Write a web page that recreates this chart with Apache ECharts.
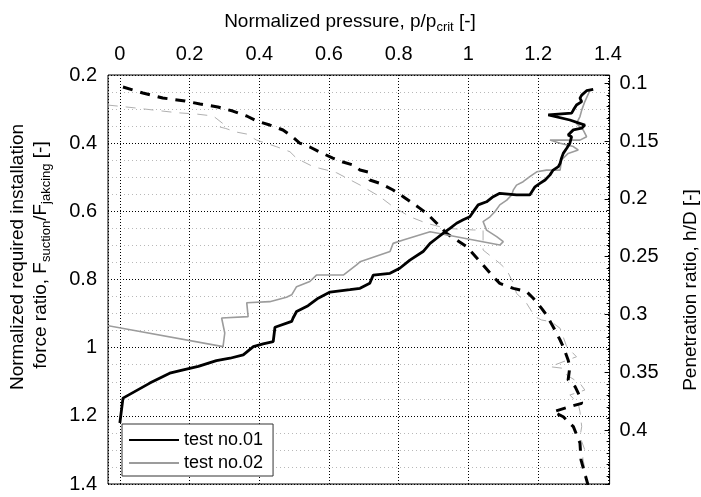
<!DOCTYPE html>
<html><head><meta charset="utf-8">
<script src="https://cdn.jsdelivr.net/npm/echarts@6/dist/echarts.min.js"></script>
<style>html,body{margin:0;padding:0;background:#fff}#c{width:701px;height:497px}</style>
</head><body><div id="c"></div>
<script>
const FONT = '"Liberation Sans", Arial, Helvetica, sans-serif';

// x-axis tick labels (normalized pressure)
const xTicks = [0, 0.2, 0.4, 0.6, 0.8, 1, 1.2, 1.4];
// left axis ticks (force ratio), right axis ticks (penetration ratio)
const leftTicks = [0.2, 0.4, 0.6, 0.8, 1, 1.2, 1.4];
const rightTicks = [0.1, 0.15, 0.2, 0.25, 0.3, 0.35, 0.4];

// test no.01 - force ratio (solid black)
const t01ForceX = [1.358,1.339,1.325,1.320,1.325,1.310,1.301,1.296,1.229,1.291,1.334,1.325,1.301,1.286,1.296,1.291,1.282,1.272,1.267,1.263,1.258,1.243,1.234,1.220,1.205,1.191,1.176,1.138,1.090,1.071,1.052,1.028,1.014,1.004,0.985,0.966,0.947,0.928,0.909,0.890,0.870,0.832,0.803,0.775,0.727,0.717,0.689,0.660,0.603,0.569,0.540,0.507,0.497,0.493,0.445,0.440,0.411,0.383,0.354,0.316,0.277,0.225,0.182,0.143,0.086,0.009,0.000];
const t01ForceY = [0.242,0.246,0.259,0.268,0.278,0.288,0.303,0.312,0.317,0.332,0.347,0.356,0.361,0.376,0.381,0.400,0.415,0.430,0.444,0.459,0.469,0.479,0.493,0.508,0.518,0.528,0.552,0.552,0.547,0.557,0.572,0.581,0.601,0.616,0.625,0.635,0.650,0.664,0.679,0.694,0.718,0.743,0.767,0.782,0.787,0.811,0.826,0.830,0.837,0.855,0.877,0.894,0.913,0.923,0.940,0.982,0.989,0.997,1.021,1.031,1.038,1.055,1.065,1.075,1.104,1.148,1.221];

// test no.02 - force ratio (solid gray)
const t02ForceX = [1.349,1.334,1.325,1.320,1.310,1.329,1.339,1.320,1.234,1.263,1.301,1.315,1.286,1.267,1.263,1.224,1.196,1.176,1.157,1.138,1.129,1.124,1.110,1.090,1.076,1.062,1.042,1.052,1.081,1.100,1.090,0.890,0.813,0.784,0.775,0.689,0.679,0.641,0.564,0.545,0.507,0.493,0.478,0.430,0.364,0.368,0.292,0.301,0.296,-0.086];
const t02ForceY = [0.244,0.278,0.303,0.322,0.342,0.361,0.381,0.391,0.391,0.400,0.410,0.420,0.430,0.449,0.479,0.479,0.484,0.498,0.513,0.523,0.537,0.552,0.567,0.581,0.601,0.616,0.630,0.655,0.674,0.689,0.699,0.660,0.684,0.694,0.718,0.748,0.757,0.787,0.787,0.806,0.821,0.845,0.852,0.865,0.868,0.909,0.913,0.957,0.997,0.926];

// test no.01 - pressure vs penetration ratio (dashed black)
const t01PressX = [0.009,0.066,0.123,0.187,0.230,0.281,0.324,0.364,0.393,0.430,0.468,0.496,0.516,0.545,0.574,0.611,0.640,0.669,0.689,0.712,0.717,0.746,0.784,0.813,0.861,0.880,0.909,0.937,0.966,0.995,1.042,1.071,1.090,1.129,1.167,1.186,1.210,1.224,1.243,1.263,1.272,1.286,1.291,1.286,1.306,1.320,1.325,1.291,1.243,1.272,1.301,1.320,1.323,1.343];
const t01PressH = [0.1032,0.1084,0.1127,0.1153,0.1179,0.1205,0.1240,0.1283,0.1326,0.1361,0.1404,0.1465,0.1517,0.1551,0.1595,0.1647,0.1681,0.1707,0.1750,0.1767,0.1837,0.1865,0.1923,0.1981,0.2082,0.2125,0.2211,0.2298,0.2356,0.2414,0.2572,0.2673,0.2731,0.2774,0.2803,0.2860,0.2947,0.3005,0.3106,0.3221,0.3279,0.3394,0.3452,0.3567,0.3625,0.3712,0.3769,0.3798,0.3842,0.3885,0.3971,0.4112,0.4259,0.4475];

// test no.02 - pressure vs penetration ratio (dashed gray)
const t02PressX = [-0.086,0.029,0.096,0.163,0.220,0.268,0.301,0.287,0.304,0.333,0.364,0.392,0.450,0.488,0.507,0.555,0.593,0.622,0.689,0.746,0.784,0.832,0.880,0.937,1.014,1.042,1.042,1.090,1.110,1.129,1.138,1.167,1.191,1.210,1.238,1.263,1.282,1.310,1.234,1.272,1.282,1.320,1.334,1.291,1.315,1.320,1.325,1.320,1.334,1.328,1.339];
const t02PressH = [0.1172,0.1208,0.1231,0.1254,0.1266,0.1283,0.1361,0.1378,0.1391,0.1421,0.1439,0.1491,0.1549,0.1592,0.1649,0.1722,0.1750,0.1774,0.1880,0.1981,0.2068,0.2154,0.2211,0.2255,0.2269,0.2269,0.2442,0.2558,0.2615,0.2731,0.2817,0.2904,0.3020,0.3048,0.3063,0.3120,0.3279,0.3366,0.3452,0.3466,0.3524,0.3596,0.3654,0.3697,0.3769,0.3842,0.3971,0.4058,0.4173,0.4242,0.4415];

const pairs = (xs, ys) => xs.map((x, i) => [x, ys[i]]);
const isTick = (v, list) => list.some(t => Math.abs(t - v) < 1e-6);
const fmt = v => String(parseFloat(v.toFixed(3)));

const chart = echarts.init(document.getElementById('c'), null, {renderer: 'canvas'});
const txt = {fontFamily: FONT, fontSize: 20, color: '#000'};
const richA = {fontFamily: FONT, fontSize: 19, lineHeight: 22, verticalAlign: 'top', fill: '#000'};
const richS = {fontFamily: FONT, fontSize: 13, lineHeight: 2, verticalAlign: 'bottom', fill: '#000'};

chart.setOption({
  animation: false,
  backgroundColor: '#fff',
  grid: {left: 108, right: 91.4, top: 75, bottom: 13, show: true, borderColor: '#000', borderWidth: 1, backgroundColor: 'transparent'},
  xAxis: {
    type: 'value', position: 'top', min: -0.034, max: 1.405,
    minInterval: 0.2, maxInterval: 0.2,
    axisLine: {show: false}, axisTick: {show: false},
    axisLabel: Object.assign({}, txt, {margin: 11, showMinLabel: false, showMaxLabel: false,
      formatter: v => isTick(v, xTicks) ? fmt(v) : ''}),
    splitLine: {show: true, lineStyle: {color: '#000', width: 1, type: [1, 2]}}
  },
  yAxis: [{
    type: 'value', inverse: true, min: 0.2, max: 1.4, interval: 0.2, position: 'left',
    axisLine: {show: false}, axisTick: {show: false},
    axisLabel: Object.assign({}, txt, {margin: 11, formatter: v => isTick(v, leftTicks) ? fmt(v) : ''}),
    splitLine: {show: true, lineStyle: {color: '#000', width: 1, type: [1, 2]}},
    minorTick: {show: false, splitNumber: 4},
    minorSplitLine: {show: true, lineStyle: {color: '#b8b8b8', width: 1, type: [1, 3]}}
  }, {
    type: 'value', inverse: true, min: 0.0928, max: 0.4467, position: 'right',
    minInterval: 0.05, maxInterval: 0.05,
    axisLine: {show: false},
    axisTick: {show: true, inside: true, length: 5, lineStyle: {color: '#000'}},
    minorTick: {show: true, splitNumber: 5, length: 3, lineStyle: {color: '#000'}},
    axisLabel: Object.assign({}, txt, {margin: 10, showMinLabel: false, showMaxLabel: false,
      formatter: v => isTick(v, rightTicks) ? fmt(v) : ''}),
    splitLine: {show: false}
  }],
  legend: {
    orient: 'vertical', left: 122, top: 424, right: 'auto', bottom: 'auto',
    data: ['test no.01', 'test no.02'],
    itemWidth: 50, itemHeight: 20, itemGap: 5,
    padding: [7, 10, 4, 6],
    itemStyle: {opacity: 0},
    backgroundColor: '#fff', borderColor: '#333', borderWidth: 1, borderRadius: 0,
    textStyle: {fontFamily: FONT, fontSize: 18, color: '#000'}
  },
  series: [
    {name: 'test no.02 p', type: 'line', yAxisIndex: 1, data: pairs(t02PressX, t02PressH),
     showSymbol: false, symbol: 'none', clip: false,
     lineStyle: {color: '#b0b0b0', width: 1, type: [10, 8]}, z: 2},
    {name: 'test no.01 p', type: 'line', yAxisIndex: 1, data: pairs(t01PressX, t01PressH),
     showSymbol: false, symbol: 'none',
     lineStyle: {color: '#000', width: 3, type: [10, 8]}, z: 3},
    {name: 'test no.02', type: 'line', yAxisIndex: 0, data: pairs(t02ForceX, t02ForceY),
     showSymbol: false, symbol: 'none', clip: false, color: '#9c9c9c',
     lineStyle: {color: '#9c9c9c', width: 1.6}, z: 4},
    {name: 'test no.01', type: 'line', yAxisIndex: 0, data: pairs(t01ForceX, t01ForceY),
     showSymbol: false, symbol: 'none', color: '#000',
     lineStyle: {color: '#000', width: 2.8}, z: 5}
  ],
  graphic: [
    {type: 'text', x: 350, y: 23, z: 100,
     style: {text: '{a|Normalized pressure, p/p}{s|crit}{a| [-]}', align: 'center', verticalAlign: 'middle',
       rich: {a: richA, s: richS}}},
    {type: 'text', x: 18, y: 257, rotation: Math.PI / 2, z: 100,
     style: {text: 'Normalized required installation', align: 'center', verticalAlign: 'middle',
       font: '19px ' + FONT, fill: '#000'}},
    {type: 'text', x: 42, y: 255, rotation: Math.PI / 2, z: 100,
     style: {text: '{a|force ratio, F}{s|suction}{a|/F}{s|jakcing}{a| [-]}', align: 'center', verticalAlign: 'middle',
       rich: {a: richA, s: richS}}},
    {type: 'text', x: 691, y: 290, rotation: Math.PI / 2, z: 100,
     style: {text: 'Penetration ratio, h/D [-]', align: 'center', verticalAlign: 'middle',
       font: '19px ' + FONT, fill: '#000'}}
  ]
});
</script>
</body></html>
